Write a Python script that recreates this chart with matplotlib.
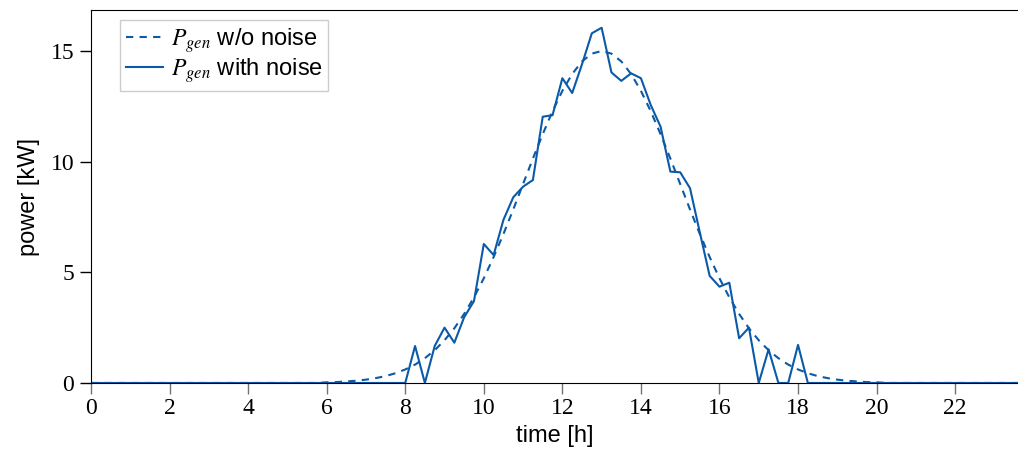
import numpy as np
import matplotlib
matplotlib.use("Agg")
import matplotlib.pyplot as plt

plt.rcParams['mathtext.fontset'] = 'stix'

# time grid, 15 min steps
t = np.arange(0, 24, 0.25)

# generated power without noise (6h .. 20h)
t_clean = np.arange(6.0, 20.25, 0.25)
p_clean = [0.03, 0.04, 0.07, 0.10, 0.15, 0.22, 0.31, 0.44, 0.61, 0.83, 1.12,
           1.48, 1.93, 2.47, 3.12, 3.87, 4.73, 5.69, 6.73, 7.84, 8.99, 10.14,
           11.24, 12.28, 13.20, 13.96, 14.53, 14.88, 15.0,
           14.88, 14.53, 13.96, 13.20, 12.28, 11.24, 10.14, 8.99, 7.84, 6.73,
           5.69, 4.73, 3.87, 3.12, 2.47, 1.93, 1.48, 1.12, 0.83, 0.61, 0.44,
           0.31, 0.22, 0.15, 0.10, 0.07, 0.04, 0.03]

# generated power with noise (8h .. 18.25h)
t_noise = np.arange(8.0, 18.5, 0.25)
p_noise = [0.0, 1.67, 0.0, 1.67, 2.5, 1.82, 2.97, 3.7, 6.28, 5.78, 7.37, 8.39,
           8.87, 9.17, 12.03, 12.1, 13.77, 13.1, 14.4, 15.8, 16.05, 14.03,
           13.65, 13.99, 13.77, 12.56, 11.58, 9.55, 9.52, 8.8, 6.8, 4.84,
           4.35, 4.53, 2.02, 2.5, 0.0, 1.52, 0.0, 0.0, 1.72, 0.0]

P_clean = np.zeros_like(t)
P_noise = np.zeros_like(t)
for tt, p in zip(t_clean, p_clean):
    P_clean[np.isclose(t, tt)] = p
for tt, p in zip(t_noise, p_noise):
    P_noise[np.isclose(t, tt)] = p

col = '#0b5aa8'

fig = plt.figure(figsize=(10.18, 4.57), dpi=100)
ax = fig.add_axes([0.0894, 0.162, 0.9106, 0.816])

ax.plot(t, P_clean, color=col, lw=1.5, ls=(0, (3.5, 3)), label=r'$P_{gen}$ w/o noise')
ax.plot(t, P_noise, color=col, lw=1.5, label=r'$P_{gen}$ with noise')

ax.set_xlim(0, 23.6)
ax.set_ylim(0, 16.85)
ax.set_xticks(np.arange(0, 23, 2))
ax.set_yticks([0, 5, 10, 15])
ax.spines['right'].set_visible(False)

ax.tick_params(axis='x', direction='out', length=8, width=1, color='0.45', pad=3)
ax.tick_params(axis='y', direction='out', length=8, width=1, pad=4)
for lab in ax.get_xticklabels() + ax.get_yticklabels():
    lab.set_fontfamily('Liberation Serif')
    lab.set_fontsize(17)

ax.set_xlabel('time [h]', fontsize=17, family='Liberation Sans', labelpad=4)
ax.set_ylabel('power [kW]', fontsize=17, family='Liberation Sans', labelpad=8)

leg = ax.legend(loc='upper left', bbox_to_anchor=(0.031, 0.973), borderaxespad=0,
                prop={'family': 'Liberation Sans', 'size': 17},
                fancybox=False, edgecolor='0.8', framealpha=1,
                handlelength=1.6, handletextpad=0.3, borderpad=0.25,
                labelspacing=0.05)

fig.savefig('out.png', dpi=100)
